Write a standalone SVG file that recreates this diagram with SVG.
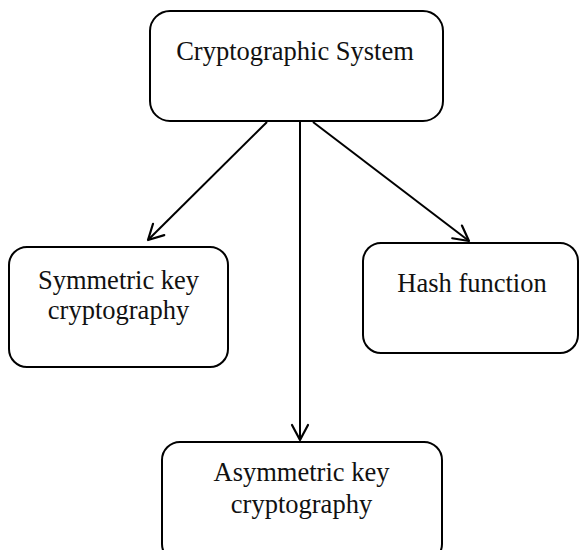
<svg xmlns="http://www.w3.org/2000/svg" width="579" height="550" viewBox="0 0 579 550">
<style>
.box{fill:#fff;stroke:#000;stroke-width:2}
.lbl{font-family:"Liberation Serif","Times New Roman",serif;font-size:26.5px;fill:#111;text-anchor:middle}
.conn{stroke:#000;stroke-width:2;fill:none;marker-end:url(#arr)}
</style>
<defs>
<marker id="arr" markerUnits="userSpaceOnUse" markerWidth="30" markerHeight="30" viewBox="-20 -15 30 30" refX="0" refY="0" orient="auto">
<path d="M-15,-8 L0,0 L-15,8" fill="none" stroke="#000" stroke-width="2.2" stroke-linecap="round" stroke-linejoin="round"/>
</marker>
</defs>
<rect width="579" height="550" fill="#fff"/>
<g id="connectors">
<line class="conn" x1="267" y1="122" x2="148" y2="240"/>
<line class="conn" x1="300" y1="122" x2="300" y2="440"/>
<line class="conn" x1="313" y1="122" x2="469" y2="241"/>
</g>
<g id="n-crypto">
<rect class="box" x="150" y="11" width="293" height="110" rx="20"/>
<text class="lbl" x="295" y="60">Cryptographic System</text>
</g>
<g id="n-symmetric">
<rect class="box" x="9" y="247" width="219" height="120" rx="18"/>
<text class="lbl" x="118.5" y="289">Symmetric key</text>
<text class="lbl" x="118.5" y="319">cryptography</text>
</g>
<g id="n-hash">
<rect class="box" x="363" y="243" width="215" height="110" rx="18"/>
<text class="lbl" x="472" y="292">Hash function</text>
</g>
<g id="n-asymmetric">
<rect class="box" x="162" y="442" width="280" height="120" rx="18"/>
<text class="lbl" x="301.5" y="481">Asymmetric key</text>
<text class="lbl" x="301.5" y="513">cryptography</text>
</g>
</svg>
